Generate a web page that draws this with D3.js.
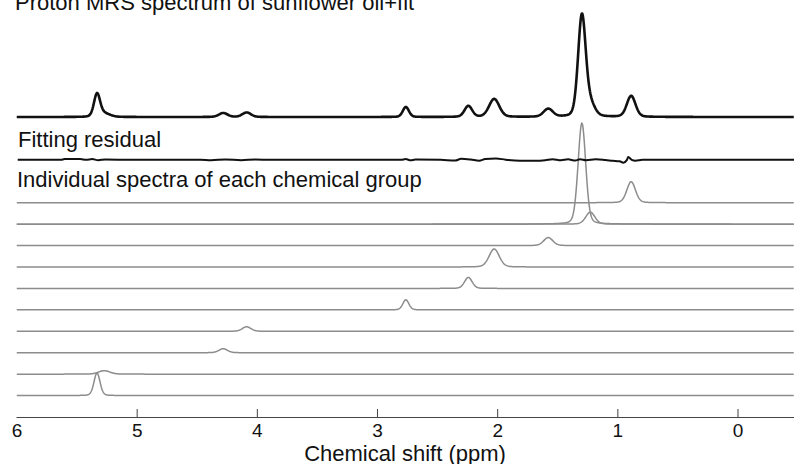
<!DOCTYPE html>
<html>
<head>
<meta charset="utf-8">
<script src="https://cdn.jsdelivr.net/npm/d3@7/dist/d3.min.js"></script>
<style>
    body { margin: 0; background: #fff; }
    svg { display: block; }
    text { font-family: "Liberation Sans", Arial, sans-serif; fill: #111; }
</style>
</head>
<body>
<div class="chart"></div>
<script>
// fitted components: row of the stack, centre (ppm), height (a.u.), FWHM (ppm)
var peakRow    = [4,     5,     5,     6,     7,     8,    9,    10,    11,   12,   13];
var peakPpm    = [0.885, 1.295, 1.225, 1.575, 2.025, 2.24, 2.76, 4.085, 4.28, 5.27, 5.33];
var peakHeight = [21,    101,   12,    8,     18,    11,   10,   4.5,   4,    3.5,  22.5];
var peakWidth  = [0.085, 0.075, 0.09,  0.09,  0.1,   0.075,0.06, 0.085, 0.085,0.11, 0.06];

// fitting residual: ppm, value (a.u.)
var residualPpm = [5.99, 5.63, 5.60, 5.47, 5.42, 5.37, 5.32, 5.26, 5.05, 4.47, 4.38, 4.26, 4.13, 4.01, 3.89,
    2.80, 2.76, 2.72, 2.68, 2.47, 2.35, 2.30, 2.22, 2.15, 2.10, 2.01, 1.93, 1.81, 1.68, 1.60, 1.54, 1.47,
    1.41, 1.35, 1.31, 1.26, 1.18, 1.10, 1.04, 0.98, 0.95, 0.92, 0.91, 0.88, 0.85, 0.79, -0.47];
var residualVal = [0, 0, 0.8, 0.8, 0, 0.8, -0.3, 0.3, 0, 0.2, -0.4, 0.4, -0.3, 0.3, 0,
    0, 0.8, -0.5, 0.3, 0, -0.7, 1, 0.3, -0.8, 0.8, 1.4, 0.2, -0.8, -0.9, -0.3, 0.7, -0.4,
    0.5, -0.6, 0.6, -0.4, 0.5, -0.2, -0.9, -1.5, -2.8, 0, 2.8, 0, -0.8, 0, 0];

var xTicks = [6, 5, 4, 3, 2, 1, 0];
var titleMain = "Proton MRS spectrum of sunflower oil+fit";
var titleResidual = "Fitting residual";
var titleComponents = "Individual spectra of each chemical group";
var xLabel = "Chemical shift (ppm)";

var width = 794, height = 464;

var svg = d3.select(".chart").append("svg")
    .attr("width", width)
    .attr("height", height);

var x = d3.scaleLinear().domain([6, -0.47]).range([16.5, 794]);
// stack row -> baseline (row 0 = data, 2 = residual, 4..13 = components, 14 = axis)
var row = d3.scaleLinear().domain([0, 14]).range([117, 417]);
var amp = d3.scaleLinear().domain([0, 100]).range([0, 100]);

// evaluation grid for the line shapes
var grid = d3.range(6, -0.47, -0.004);

var shape = function(ppm, i) {
    var sigma = peakWidth[i] / 2.3548;
    var g = Math.exp(-Math.pow(ppm - peakPpm[i], 2) / (2 * sigma * sigma));
    var hw = peakWidth[i] / 2;
    var l = hw * hw / (Math.pow(ppm - peakPpm[i], 2) + hw * hw);
    return peakHeight[i] * (0.8 * g + 0.2 * l);
}

var lineFor = function(base) {
    return d3.line()
        .x(function(d) { return x(d[0]); })
        .y(function(d) { return row(base) - amp(d[1]); });
}

svg.append("clipPath").attr("id", "plotClip")
    .append("rect").attr("x", 16.5).attr("y", 0).attr("width", width).attr("height", height);

var plot = svg.append("g").attr("clip-path", "url(#plotClip)");

// individual spectra, one line per row
var rows = d3.range(4, 14);
rows.forEach(function(r) {
    var idx = d3.range(peakRow.length).filter(function(i) { return peakRow[i] == r; });
    idx.forEach(function(i) {
        var pts = grid.map(function(p) { return [p, shape(p, i)]; });
        plot.append("path")
            .attr("d", lineFor(r)(pts))
            .attr("fill", "none")
            .attr("stroke", "#8c8c8c")
            .attr("stroke-width", 1.5);
    });
});

// sum of all components on top row
var total = grid.map(function(p) {
    var s = 0;
    for (var i = 0; i < peakRow.length; i++) s += shape(p, i);
    return [p, s];
});
plot.append("path")
    .attr("d", lineFor(0)(total))
    .attr("fill", "none")
    .attr("stroke", "#111")
    .attr("stroke-width", 2.6)
    .attr("stroke-linejoin", "round");

// residual
var resPts = residualPpm.map(function(p, i) { return [p, residualVal[i]]; });
plot.append("path")
    .attr("d", lineFor(2).curve(d3.curveMonotoneX)(resPts.slice().reverse()))
    .attr("fill", "none")
    .attr("stroke", "#111")
    .attr("stroke-width", 2);

// x axis
var axis = svg.append("g")
    .attr("transform", "translate(0," + row(14) + ")")
    .call(d3.axisBottom(x).tickValues(xTicks).tickSize(-8).tickPadding(7).tickFormat(d3.format("d")));
axis.select(".domain").attr("stroke", "#444").attr("d", "M16.5,0.5H794");
axis.selectAll(".tick line").attr("stroke", "#444");
axis.selectAll(".tick").filter(function(d) { return d == 6; }).select("line").remove();
axis.selectAll(".tick text").attr("font-size", 19).attr("fill", "#222")
    .attr("font-family", "Liberation Sans, Arial, sans-serif");

svg.append("text").attr("x", 405).attr("y", 460.5).attr("text-anchor", "middle")
    .attr("font-size", 22).text(xLabel);

svg.append("text").attr("x", 15).attr("y", 10).attr("font-size", 22).text(titleMain);
svg.append("text").attr("x", 18).attr("y", 147).attr("font-size", 22).text(titleResidual);
svg.append("text").attr("x", 17).attr("y", 187).attr("font-size", 22).text(titleComponents);
</script>
</body>
</html>
